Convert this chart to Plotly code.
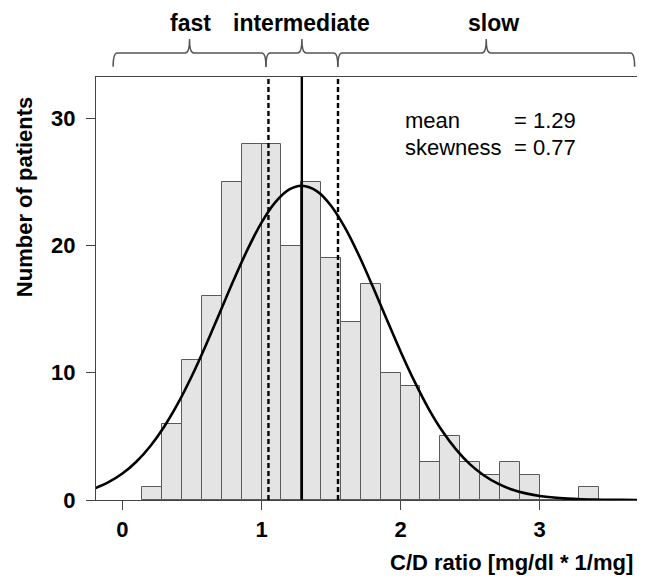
import plotly.graph_objects as go

# ---- data ----
bin_start = 1 / 7
bin_width = 1 / 7
counts = [1, 6, 11, 16, 25, 28, 28, 20, 25, 19, 14, 17, 10, 9, 3, 5, 3, 2, 3, 2, 0, 0, 1]

curve_x = [-0.2, -0.1, 0.0, 0.1, 0.2, 0.3, 0.4, 0.5, 0.6, 0.7, 0.8, 0.9, 1.0, 1.1, 1.2,
           1.29, 1.4, 1.5, 1.6, 1.7, 1.8, 1.9, 2.0, 2.1, 2.2, 2.3, 2.4, 2.5, 2.6, 2.7,
           2.8, 2.9, 3.0, 3.1, 3.2, 3.3, 3.4, 3.5, 3.6, 3.7]
curve_y = [0.91, 1.40, 2.08, 3.01, 4.23, 5.76, 7.61, 9.77, 12.17, 14.72, 17.29, 19.70,
           21.80, 23.41, 24.41, 24.70, 24.26, 23.13, 21.41, 19.24, 16.78, 14.21, 11.68,
           9.32, 7.21, 5.42, 3.96, 2.80, 1.93, 1.29, 0.83, 0.52, 0.32, 0.19, 0.11, 0.06,
           0.03, 0.02, 0.01, 0.004]

cut_fast = 1.05
mean_value = 1.29
cut_slow = 1.55

group_labels = ["fast", "intermediate", "slow"]
group_bounds = [(-0.067, 1.032), (1.032, 1.549), (1.549, 3.683)]
group_label_x = [0.488, 1.29, 2.67]

stat_labels = ["mean", "skewness"]
stat_values = ["= 1.29", "= 0.77"]

x_ticks = [0, 1, 2, 3]
y_ticks = [0, 10, 20, 30]

FONT = "Liberation Sans, Arial, sans-serif"

centers = [bin_start + (i + 0.5) * bin_width for i in range(len(counts))]

fig = go.Figure()
fig.add_trace(go.Bar(
    x=centers, y=counts, width=bin_width,
    marker=dict(color="#e4e4e4", line=dict(color="#5a5a5a", width=1)),
    hoverinfo="x+y", showlegend=False,
))
fig.add_trace(go.Scatter(
    x=curve_x, y=curve_y, mode="lines",
    line=dict(color="black", width=2.6, shape="spline"),
    showlegend=False,
))

shapes = []
for xv, dash in [(cut_fast, "5px,3px"), (mean_value, "solid"), (cut_slow, "5px,3px")]:
    shapes.append(dict(type="line", xref="x", yref="y domain", x0=xv, x1=xv, y0=0, y1=1,
                       line=dict(color="black", width=2.4, dash=dash), layer="above"))

# curly brackets above the plot
yb, ym, yt = 1.024, 1.057, 1.090
dx = 0.03
for (x0, x1) in group_bounds:
    xc = (x0 + x1) / 2
    path = (f"M {x0},{yb} Q {x0},{ym} {x0+dx},{ym} L {xc-dx},{ym} "
            f"Q {xc},{ym} {xc},{yt} Q {xc},{ym} {xc+dx},{ym} "
            f"L {x1-dx},{ym} Q {x1},{ym} {x1},{yb}")
    shapes.append(dict(type="path", xref="x", yref="paper", path=path,
                       line=dict(color="#555555", width=1.5)))

annotations = []
for lab, xl in zip(group_labels, group_label_x):
    annotations.append(dict(x=xl, y=1.128, xref="x", yref="paper", text=lab,
                            showarrow=False, xanchor="center", yanchor="middle",
                            font=dict(family=FONT, size=23, color="black", weight="bold")))

stat_y = [29.87, 27.67]
for lab, val, yv in zip(stat_labels, stat_values, stat_y):
    annotations.append(dict(x=2.017, y=yv, xref="x", yref="y", text=lab, showarrow=False,
                            xanchor="left", yanchor="middle",
                            font=dict(family=FONT, size=22, color="black")))
    annotations.append(dict(x=2.80, y=yv, xref="x", yref="y", text=val, showarrow=False,
                            xanchor="left", yanchor="middle",
                            font=dict(family=FONT, size=22, color="black")))

annotations.append(dict(x=-0.132, y=0.715, xref="paper", yref="paper",
                        text="Number of patients", textangle=-90, showarrow=False,
                        xanchor="center", yanchor="middle",
                        font=dict(family=FONT, size=22, color="black", weight="bold")))
annotations.append(dict(x=0.996, y=-0.147, xref="paper", yref="paper",
                        text="C/D ratio [mg/dl * 1/mg]", showarrow=False,
                        xanchor="right", yanchor="middle",
                        font=dict(family=FONT, size=22, color="black", weight="bold")))

axis_common = dict(showgrid=False, zeroline=False, showline=True, mirror=True,
                   linecolor="#444444", linewidth=1.2, ticks="outside", ticklen=9,
                   tickcolor="#444444", tickwidth=1.2,
                   tickfont=dict(family=FONT, size=22, color="black", weight="bold"))

# the page shows the figure with an 8px body margin, so size/margins compensate
fig.update_layout(
    width=637, height=571,
    margin=dict(l=88, r=8, t=69, b=79),
    paper_bgcolor="white", plot_bgcolor="white",
    xaxis=dict(range=[-0.19, 3.70], tickvals=x_ticks, **axis_common),
    yaxis=dict(range=[0, 33.25], tickvals=y_ticks, ticklabelstandoff=6, **axis_common),
    shapes=shapes, annotations=annotations,
    bargap=0, showlegend=False,
)

fig.write_html("out.html")
